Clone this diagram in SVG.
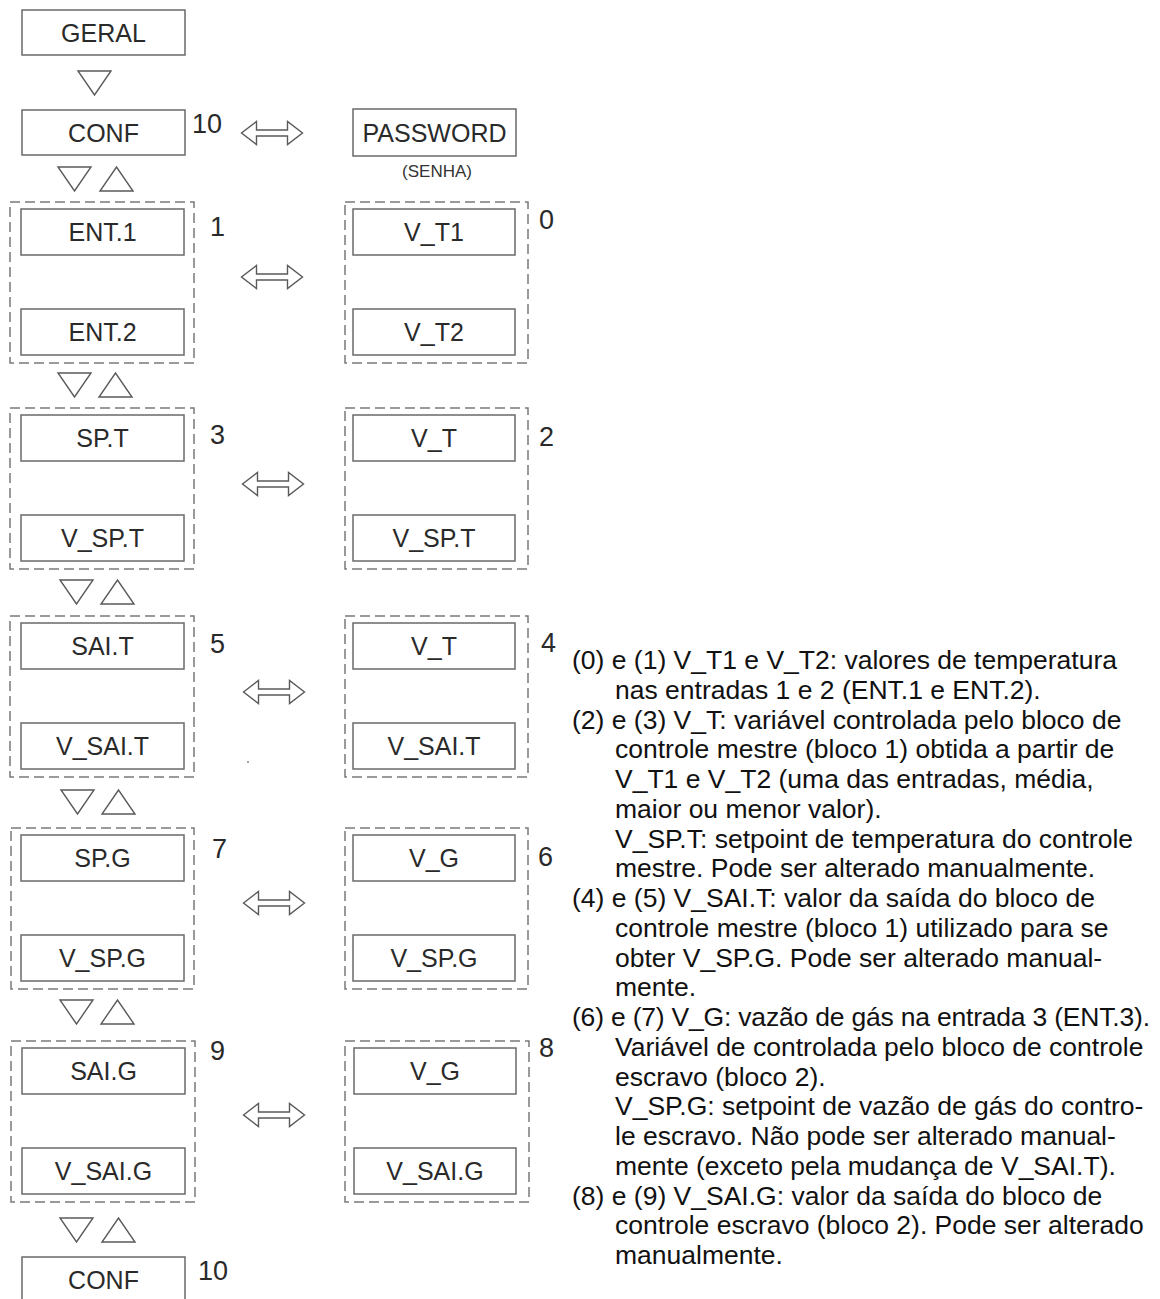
<svg xmlns="http://www.w3.org/2000/svg" xmlns:xlink="http://www.w3.org/1999/xlink" width="1160" height="1299" viewBox="0 0 1160 1299">
<style>
.box{fill:#fff;stroke:#6a6a6a;stroke-width:1.5}
.grp{fill:none;stroke:#7a7a7a;stroke-width:1.5;stroke-dasharray:10 5}
.lbl{font-family:"Liberation Sans",Arial,sans-serif;font-size:25px;fill:#2a2a2a;text-anchor:middle}
.num{font-family:"Liberation Sans",Arial,sans-serif;font-size:27px;fill:#2a2a2a}
.small{font-family:"Liberation Sans",Arial,sans-serif;font-size:17px;fill:#333;text-anchor:middle}
.note{font-family:"Liberation Sans",Arial,sans-serif;font-size:26.5px;fill:#111}
.conn{fill:#fff;stroke:#5a5a5a;stroke-width:1.4;stroke-linejoin:miter}
</style>
<defs>
<path id="dn" d="M0,0 L33,0 L16.5,24 Z"/>
<path id="up" d="M0,24 L33,24 L16.5,0 Z"/>
<path id="dbl" d="M-30.5,0 L-15.5,-11.5 L-15.5,-3 L15.5,-3 L15.5,-11.5 L30.5,0 L15.5,11.5 L15.5,3 L-15.5,3 L-15.5,11.5 Z"/>
</defs>
<rect width="1160" height="1299" fill="#fff"/>

<g id="geral"><rect class="box" x="22" y="10" width="163" height="45"/><text class="lbl" x="103.5" y="42">GERAL</text></g>
<g id="conf-top"><rect class="box" x="22" y="110" width="163" height="45"/><text class="lbl" x="103.5" y="142">CONF</text><text class="num" x="192" y="133">10</text></g>
<g id="password"><rect class="box" x="353" y="109" width="163" height="47"/><text class="lbl" x="434.5" y="142">PASSWORD</text><text class="small" x="437" y="177">(SENHA)</text></g>

<g id="grp-left-1"><rect class="grp" x="10" y="202" width="184" height="161"/>
<rect class="box" x="21" y="209" width="163" height="46"/><text class="lbl" x="102.5" y="241">ENT.1</text>
<rect class="box" x="21" y="309" width="163" height="46"/><text class="lbl" x="102.5" y="341">ENT.2</text>
<text class="num" x="210" y="236">1</text></g>
<g id="grp-right-0"><rect class="grp" x="345" y="202" width="183" height="161"/>
<rect class="box" x="353" y="209" width="162" height="46"/><text class="lbl" x="434" y="241">V_T1</text>
<rect class="box" x="353" y="309" width="162" height="46"/><text class="lbl" x="434" y="341">V_T2</text>
<text class="num" x="539" y="229">0</text></g>

<g id="grp-left-3"><rect class="grp" x="10" y="408" width="184" height="161"/>
<rect class="box" x="21" y="415" width="163" height="46"/><text class="lbl" x="102.5" y="447">SP.T</text>
<rect class="box" x="21" y="515" width="163" height="46"/><text class="lbl" x="102.5" y="547">V_SP.T</text>
<text class="num" x="210" y="444">3</text></g>
<g id="grp-right-2"><rect class="grp" x="345" y="408" width="183" height="161"/>
<rect class="box" x="353" y="415" width="162" height="46"/><text class="lbl" x="434" y="447">V_T</text>
<rect class="box" x="353" y="515" width="162" height="46"/><text class="lbl" x="434" y="547">V_SP.T</text>
<text class="num" x="539" y="446">2</text></g>

<g id="grp-left-5"><rect class="grp" x="10" y="616" width="184" height="161"/>
<rect class="box" x="21" y="623" width="163" height="46"/><text class="lbl" x="102.5" y="655">SAI.T</text>
<rect class="box" x="21" y="723" width="163" height="46"/><text class="lbl" x="102.5" y="755">V_SAI.T</text>
<text class="num" x="210" y="653">5</text></g>
<g id="grp-right-4"><rect class="grp" x="345" y="616" width="183" height="161"/>
<rect class="box" x="353" y="623" width="162" height="46"/><text class="lbl" x="434" y="655">V_T</text>
<rect class="box" x="353" y="723" width="162" height="46"/><text class="lbl" x="434" y="755">V_SAI.T</text>
<text class="num" x="541" y="652">4</text></g>

<g id="grp-left-7"><rect class="grp" x="11" y="828" width="183" height="161"/>
<rect class="box" x="21" y="835" width="163" height="46"/><text class="lbl" x="102.5" y="867">SP.G</text>
<rect class="box" x="21" y="935" width="163" height="46"/><text class="lbl" x="102.5" y="967">V_SP.G</text>
<text class="num" x="212" y="858">7</text></g>
<g id="grp-right-6"><rect class="grp" x="345" y="828" width="183" height="161"/>
<rect class="box" x="353" y="835" width="162" height="46"/><text class="lbl" x="434" y="867">V_G</text>
<rect class="box" x="353" y="935" width="162" height="46"/><text class="lbl" x="434" y="967">V_SP.G</text>
<text class="num" x="538" y="866">6</text></g>

<g id="grp-left-9"><rect class="grp" x="11" y="1041" width="184" height="161"/>
<rect class="box" x="22" y="1048" width="163" height="46"/><text class="lbl" x="103.5" y="1080">SAI.G</text>
<rect class="box" x="22" y="1148" width="163" height="46"/><text class="lbl" x="103.5" y="1180">V_SAI.G</text>
<text class="num" x="210" y="1060">9</text></g>
<g id="grp-right-8"><rect class="grp" x="345" y="1041" width="184" height="161"/>
<rect class="box" x="354" y="1048" width="162" height="46"/><text class="lbl" x="435" y="1080">V_G</text>
<rect class="box" x="354" y="1148" width="162" height="46"/><text class="lbl" x="435" y="1180">V_SAI.G</text>
<text class="num" x="539" y="1057">8</text></g>

<g id="conf-bottom"><rect class="box" x="22" y="1257" width="163" height="60"/><text class="lbl" x="103.5" y="1289">CONF</text><text class="num" x="198" y="1280">10</text></g>

<g id="connectors">
<use href="#dn" xlink:href="#dn" class="conn" x="78" y="71"/>
<use href="#dn" xlink:href="#dn" class="conn" x="58" y="167"/>
<use href="#up" xlink:href="#up" class="conn" x="100" y="167"/>
<use href="#dn" xlink:href="#dn" class="conn" x="58" y="373"/>
<use href="#up" xlink:href="#up" class="conn" x="99" y="373"/>
<use href="#dn" xlink:href="#dn" class="conn" x="60" y="580"/>
<use href="#up" xlink:href="#up" class="conn" x="101" y="580"/>
<use href="#dn" xlink:href="#dn" class="conn" x="61" y="790"/>
<use href="#up" xlink:href="#up" class="conn" x="102" y="790"/>
<use href="#dn" xlink:href="#dn" class="conn" x="60" y="1000"/>
<use href="#up" xlink:href="#up" class="conn" x="101" y="1000"/>
<use href="#dn" xlink:href="#dn" class="conn" x="60" y="1218"/>
<use href="#up" xlink:href="#up" class="conn" x="102" y="1218"/>
<use href="#dbl" xlink:href="#dbl" class="conn" x="272" y="133"/>
<use href="#dbl" xlink:href="#dbl" class="conn" x="272" y="277"/>
<use href="#dbl" xlink:href="#dbl" class="conn" x="273" y="484"/>
<use href="#dbl" xlink:href="#dbl" class="conn" x="274" y="692"/>
<use href="#dbl" xlink:href="#dbl" class="conn" x="274" y="903"/>
<use href="#dbl" xlink:href="#dbl" class="conn" x="274" y="1115"/>
</g>
<circle cx="248" cy="762" r="1" fill="#888"/>

<g id="notes" class="note">
<text x="572" y="669">(0) e (1) V_T1 e V_T2: valores de temperatura</text>
<text x="615" y="699">nas entradas 1 e 2 (ENT.1 e ENT.2).</text>
<text x="572" y="728.5">(2) e (3) V_T: variável controlada pelo bloco de</text>
<text x="615" y="758">controle mestre (bloco 1) obtida a partir de</text>
<text x="615" y="788">V_T1 e V_T2 (uma das entradas, média,</text>
<text x="615" y="818">maior ou menor valor).</text>
<text x="615" y="847.5">V_SP.T: setpoint de temperatura do controle</text>
<text x="615" y="877">mestre. Pode ser alterado manualmente.</text>
<text x="572" y="907">(4) e (5) V_SAI.T: valor da saída do bloco de</text>
<text x="615" y="937">controle mestre (bloco 1) utilizado para se</text>
<text x="615" y="966.5">obter V_SP.G. Pode ser alterado manual-</text>
<text x="615" y="996">mente.</text>
<text x="572" y="1026" textLength="578" lengthAdjust="spacing">(6) e (7) V_G: vazão de gás na entrada 3 (ENT.3).</text>
<text x="615" y="1056">Variável de controlada pelo bloco de controle</text>
<text x="615" y="1085.5">escravo (bloco 2).</text>
<text x="615" y="1115">V_SP.G: setpoint de vazão de gás do contro-</text>
<text x="615" y="1145">le escravo. Não pode ser alterado manual-</text>
<text x="615" y="1175">mente (exceto pela mudança de V_SAI.T).</text>
<text x="572" y="1204.5">(8) e (9) V_SAI.G: valor da saída do bloco de</text>
<text x="615" y="1234">controle escravo (bloco 2). Pode ser alterado</text>
<text x="615" y="1264">manualmente.</text>
</g>
</svg>
